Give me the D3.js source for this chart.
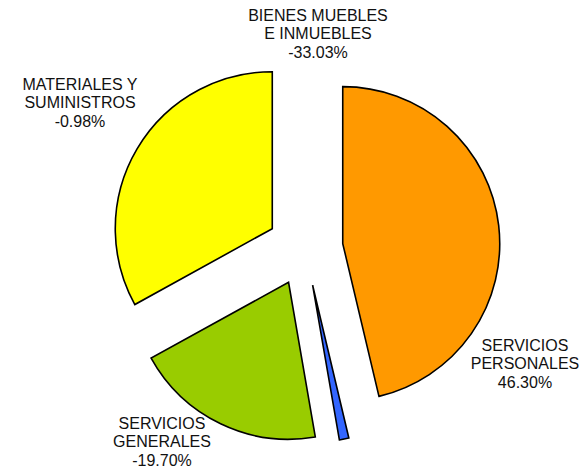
<!DOCTYPE html>
<html>
<head>
<meta charset="utf-8">
<script src="https://cdn.jsdelivr.net/npm/d3@7"></script>
<style>
  body { margin: 0; background: #fff; }
  svg text { font-family: "Liberation Sans", Arial, sans-serif; font-size: 16px; fill: #111; }
</style>
</head>
<body>
<div id="chart"></div>
<script>
// categories in drawing order (clockwise from 12 o'clock)
const categories = [
    ['SERVICIOS', 'PERSONALES'],
    ['MATERIALES Y', 'SUMINISTROS'],
    ['SERVICIOS', 'GENERALES'],
    ['BIENES MUEBLES', 'E INMUEBLES']
];
const values = [46.30, -0.98, -19.70, -33.03];
const colors = ['#FF9900', '#3366FF', '#99CC00', '#FFFF00'];
// label anchor (center x, first baseline y), as placed in the original
const labelPos = [[525, 351], [80, 90], [162, 429], [318, 21]];

const width = 587, height = 470;
const cx = 305, cy = 248, radius = 157, explode = 38;

const svg = d3.select('#chart')
    .append('svg')
    .attr('width', width)
    .attr('height', height);

const pie = d3.pie()
    .sort(null)
    .value(d => Math.abs(d));

const arc = d3.arc()
    .innerRadius(0)
    .outerRadius(radius);

const arcs = pie(values);

svg.append('g')
    .attr('transform', `translate(${cx},${cy})`)
    .selectAll('path')
    .data(arcs)
    .join('path')
    .attr('d', arc)
    .attr('transform', d => {
        const mid = (d.startAngle + d.endAngle) / 2;
        return `translate(${explode * Math.sin(mid)},${-explode * Math.cos(mid)})`;
    })
    .attr('fill', (d, i) => colors[i])
    .attr('stroke', '#000')
    .attr('stroke-width', 1.6)
    .attr('stroke-linejoin', 'miter');

// labels
const labels = svg.append('g');
categories.forEach((lines, i) => {
    const t = labels.append('text')
        .attr('text-anchor', 'middle')
        .attr('x', labelPos[i][0])
        .attr('y', labelPos[i][1]);
    lines.concat([values[i].toFixed(2) + '%']).forEach((s, j) => {
        t.append('tspan')
            .attr('x', labelPos[i][0])
            .attr('dy', j === 0 ? 0 : 18.3)
            .text(s);
    });
});
</script>
</body>
</html>
